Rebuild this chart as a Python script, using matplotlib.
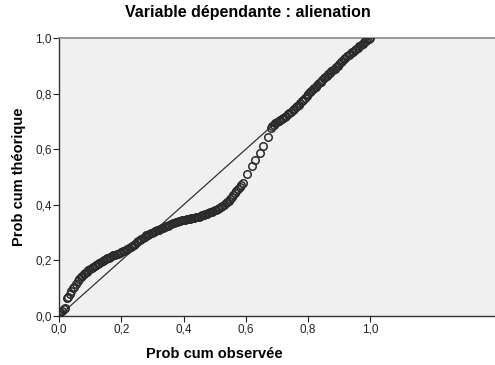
import matplotlib
matplotlib.use("Agg")
import matplotlib.pyplot as plt

# Cumulative probabilities (P-P plot of the residuals)
obs = [0.000, 0.005, 0.010, 0.015, 0.020, 0.025, 0.030, 0.035, 0.040, 0.045,
       0.050, 0.055, 0.060, 0.065, 0.070, 0.075, 0.080, 0.085, 0.090, 0.095,
       0.100, 0.105, 0.110, 0.115, 0.120, 0.125, 0.130, 0.135, 0.140, 0.145,
       0.150, 0.155, 0.160, 0.165, 0.170, 0.175, 0.180, 0.185, 0.190, 0.195,
       0.200, 0.205, 0.210, 0.215, 0.220, 0.225, 0.230, 0.235, 0.240, 0.245,
       0.250, 0.255, 0.260, 0.265, 0.270, 0.275, 0.280, 0.285, 0.290, 0.295,
       0.300, 0.305, 0.310, 0.315, 0.320, 0.325, 0.330, 0.335, 0.340, 0.345,
       0.350, 0.355, 0.360, 0.365, 0.370, 0.375, 0.380, 0.385, 0.390, 0.395,
       0.400, 0.405, 0.410, 0.415, 0.420, 0.425, 0.430, 0.435, 0.440, 0.445,
       0.450, 0.455, 0.460, 0.465, 0.470, 0.475, 0.480, 0.485, 0.490, 0.495,
       0.500, 0.505, 0.510, 0.515, 0.520, 0.525, 0.530, 0.535, 0.540, 0.545,
       0.550, 0.555, 0.560, 0.565, 0.570, 0.575, 0.580, 0.585, 0.590, 0.605,
       0.620, 0.630, 0.645, 0.655, 0.670, 0.680, 0.685, 0.690, 0.695, 0.700,
       0.705, 0.710, 0.715, 0.720, 0.725, 0.730, 0.735, 0.740, 0.745, 0.750,
       0.755, 0.760, 0.765, 0.770, 0.775, 0.780, 0.785, 0.790, 0.795, 0.800,
       0.805, 0.810, 0.815, 0.820, 0.825, 0.830, 0.835, 0.840, 0.845, 0.850,
       0.855, 0.860, 0.865, 0.870, 0.875, 0.880, 0.885, 0.890, 0.895, 0.900,
       0.905, 0.910, 0.915, 0.920, 0.925, 0.930, 0.935, 0.940, 0.945, 0.950,
       0.955, 0.960, 0.965, 0.970, 0.975, 0.980, 0.985, 0.990, 0.995, 1.000]
theo = [0.005, 0.015, 0.020, 0.025, 0.030, 0.065, 0.070, 0.080, 0.090, 0.100,
        0.105, 0.115, 0.125, 0.135, 0.140, 0.145, 0.150, 0.155, 0.160, 0.165,
        0.170, 0.174, 0.177, 0.181, 0.185, 0.189, 0.192, 0.195, 0.198, 0.202,
        0.205, 0.208, 0.210, 0.213, 0.215, 0.218, 0.220, 0.223, 0.225, 0.228,
        0.230, 0.233, 0.235, 0.238, 0.240, 0.244, 0.248, 0.252, 0.256, 0.260,
        0.265, 0.269, 0.273, 0.278, 0.282, 0.286, 0.290, 0.293, 0.296, 0.298,
        0.300, 0.303, 0.305, 0.308, 0.310, 0.313, 0.315, 0.318, 0.320, 0.323,
        0.325, 0.328, 0.330, 0.333, 0.335, 0.338, 0.340, 0.342, 0.343, 0.344,
        0.345, 0.347, 0.348, 0.349, 0.350, 0.352, 0.353, 0.354, 0.355, 0.357,
        0.358, 0.360, 0.362, 0.364, 0.366, 0.368, 0.370, 0.373, 0.375, 0.378,
        0.380, 0.383, 0.386, 0.389, 0.392, 0.396, 0.400, 0.405, 0.410, 0.415,
        0.420, 0.428, 0.435, 0.443, 0.450, 0.458, 0.465, 0.473, 0.480, 0.510,
        0.540, 0.560, 0.585, 0.610, 0.645, 0.675, 0.682, 0.688, 0.693, 0.698,
        0.702, 0.705, 0.708, 0.712, 0.716, 0.720, 0.725, 0.730, 0.735, 0.740,
        0.745, 0.750, 0.755, 0.760, 0.766, 0.772, 0.778, 0.785, 0.792, 0.798,
        0.804, 0.810, 0.815, 0.820, 0.825, 0.830, 0.837, 0.843, 0.849, 0.855,
        0.860, 0.865, 0.870, 0.875, 0.880, 0.885, 0.890, 0.895, 0.900, 0.905,
        0.912, 0.918, 0.923, 0.928, 0.934, 0.940, 0.944, 0.948, 0.951, 0.955,
        0.960, 0.965, 0.970, 0.975, 0.980, 0.985, 0.990, 0.995, 0.998, 1.000]
ref = [0.0, 1.0]
ticks = [0.0, 0.2, 0.4, 0.6, 0.8, 1.0]
tick_labels = ["0,0", "0,2", "0,4", "0,6", "0,8", "1,0"]

plt.rcParams["font.family"] = ["Liberation Sans", "DejaVu Sans"]

fig = plt.figure(figsize=(4.95, 3.65), dpi=100)
ax = fig.add_axes([0.119, 0.134, 0.881, 0.762])
ax.set_facecolor("#f0f0f0")

ax.plot(ref, ref, color="#333333", linewidth=0.9, zorder=2)
ax.plot(obs, theo, linestyle="none", marker="o", markersize=5.4,
        markerfacecolor="none", markeredgecolor="#2a2a2a",
        markeredgewidth=1.1, zorder=3)

ax.set_xlim(0, 1.4)
ax.set_ylim(0, 1.0)
ax.set_xticks(ticks)
ax.set_xticklabels(tick_labels)
ax.set_yticks(ticks)
ax.set_yticklabels(tick_labels)
ax.tick_params(direction="out", length=4, width=0.8, labelsize=8.5,
               colors="#222222", pad=1)

for s in ["left", "bottom"]:
    ax.spines[s].set_color("#333333")
    ax.spines[s].set_linewidth(1.0)
ax.spines["top"].set_color("#888888")
ax.spines["top"].set_linewidth(1.2)
ax.spines["right"].set_visible(False)

ax.set_xlabel("Prob cum observée", fontsize=10.5, fontweight="bold")
ax.xaxis.set_label_coords(0.5 / 1.4, -0.11)
ax.set_ylabel("Prob cum théorique", fontsize=10.5, fontweight="bold")
ax.yaxis.set_label_coords(-0.075, 0.5)

fig.suptitle("Variable dépendante : alienation", fontsize=11.5,
             fontweight="bold", y=0.985)

fig.savefig("out.png", dpi=100)
